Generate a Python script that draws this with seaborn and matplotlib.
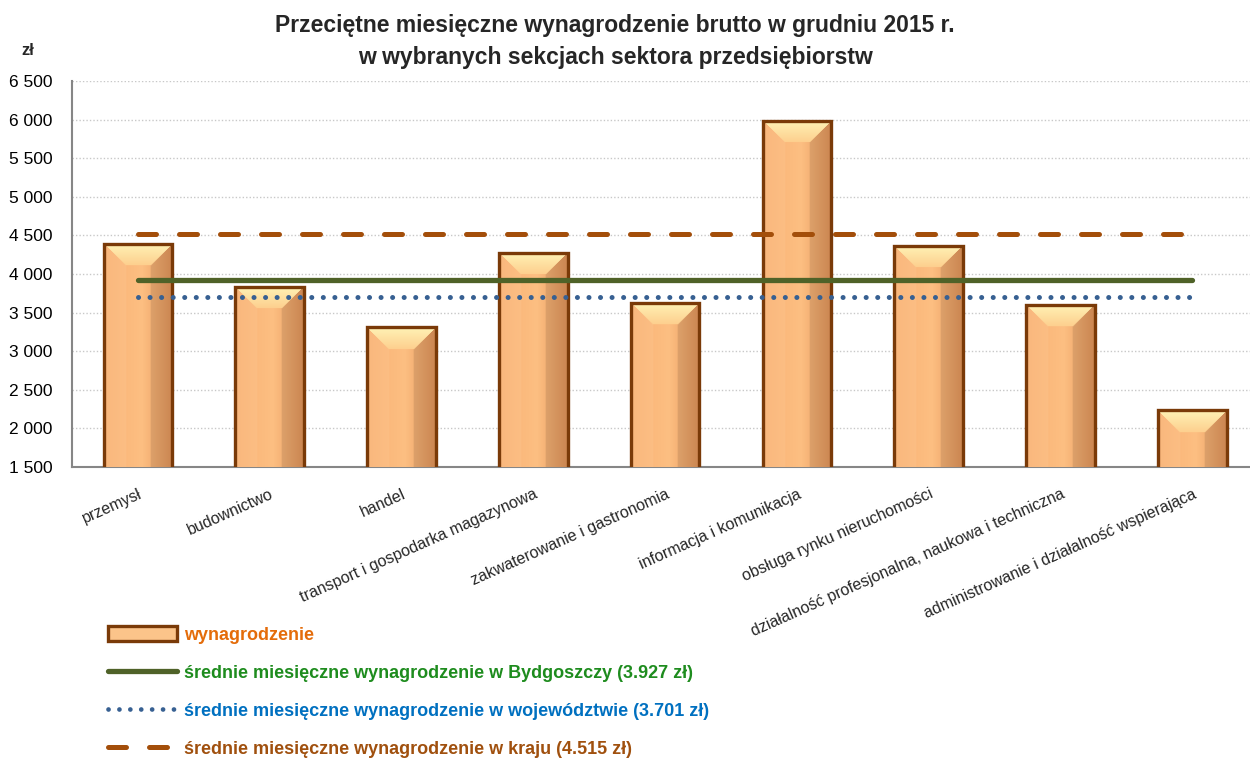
import numpy as np
import pandas as pd
import seaborn as sns
import matplotlib.pyplot as plt
from matplotlib.lines import Line2D
from matplotlib.patches import Rectangle
from matplotlib.colors import to_rgb

# dane
sekcje = ["przemysł", "budownictwo", "handel",
          "transport i gospodarka magazynowa", "zakwaterowanie i gastronomia",
          "informacja i komunikacja", "obsługa rynku nieruchomości",
          "działalność profesjonalna, naukowa i techniczna",
          "administrowanie i działalność wspierająca"]
wynagrodzenie = [4390, 3835, 3310, 4275, 3625, 5985, 4365, 3600, 2235]

srednia_bydgoszcz = 3927
srednia_wojewodztwo = 3701
srednia_kraj = 4515

legend_labels = ["wynagrodzenie",
                 "średnie miesięczne wynagrodzenie w Bydgoszczy (3.927 zł)",
                 "średnie miesięczne wynagrodzenie w województwie (3.701 zł)",
                 "średnie miesięczne wynagrodzenie w kraju (4.515 zł)"]

df = pd.DataFrame({"sekcja": sekcje, "wynagrodzenie": wynagrodzenie})

sns.set_style("white")
plt.rcParams['font.family'] = ['Liberation Sans', 'DejaVu Sans']

fig = plt.figure(figsize=(12.5, 7.6), dpi=100)
ax = fig.add_axes([0.0576, 0.3855, 0.949, 0.508])

EDGE = "#7A3A08"
sns.barplot(data=df, x="sekcja", y="wynagrodzenie", color="#F9B478",
            width=0.52, edgecolor=EDGE, linewidth=2.4, saturation=1, ax=ax, zorder=3)

ax.set_ylim(1500, 6500)
ax.set_xlim(-0.5, len(sekcje) - 0.5)
fig.canvas.draw()


def bevel_image(w_px, h_px, depth=22):
    """Prostokąt z fazowanymi krawędziami (efekt piramidy jak w Excelu)."""
    w_px, h_px = max(int(w_px), 2), max(int(h_px), 2)
    X, Y = np.meshgrid(np.arange(w_px) + 0.5, np.arange(h_px) + 0.5)
    d_top, d_bot = Y, h_px - Y
    d_left, d_right = X, w_px - X
    t = (X / w_px)[..., None]
    left = np.array(to_rgb("#F8B174"))
    mid = np.array(to_rgb("#FDBF82"))
    right = np.array(to_rgb("#E29459"))
    base = np.where(t < 0.55, left + (mid - left) * (t / 0.55),
                    mid + (right - mid) * ((t - 0.55) / 0.45))
    img = base.copy()
    dmin = np.minimum.reduce([d_top, d_bot, d_left, d_right])
    edge = dmin < depth
    top = edge & (d_top == dmin)
    bot = edge & (d_bot == dmin) & ~top
    lft = edge & (d_left == dmin) & ~top & ~bot
    rgt = edge & ~top & ~bot & ~lft
    f = (d_top / depth)[..., None]
    top_c = np.array(to_rgb("#FFF3B6")) * (1 - f) + np.array(to_rgb("#FDCF8E")) * f
    img[top] = top_c[top]
    img[bot] = (base * 0.85 + np.array(to_rgb("#F2C090")) * 0.15)[bot]
    img[lft] = (base * 0.8 + np.array(to_rgb("#FFD0A0")) * 0.2)[lft]
    img[rgt] = (base * 0.9)[rgt]
    return np.clip(img, 0, 1)


for p in ax.patches:
    x0, y0 = p.get_x(), p.get_y()
    w, h = p.get_width(), p.get_height()
    (px0, py0), (px1, py1) = ax.transData.transform([(x0, y0), (x0 + w, y0 + h)])
    img = bevel_image(px1 - px0, py1 - py0)
    ax.imshow(img, extent=(x0, x0 + w, y0, y0 + h), aspect="auto",
              zorder=2.9, interpolation="bilinear")
    p.set_facecolor("none")

ax.set_xlim(-0.5, len(sekcje) - 0.5)
ax.set_ylim(1500, 6500)

# linie średnich od pierwszej do ostatniej kategorii
xs = np.arange(len(sekcje))
ends = [xs[0], xs[-1]]
ax.plot(ends, [srednia_kraj] * 2, color="#A34E0A", lw=3.6,
        linestyle=(0, (3.6, 4.6)), dash_capstyle="round", zorder=4)
ax.plot(ends, [srednia_bydgoszcz] * 2, color="#4F6228", lw=3.8,
        solid_capstyle="round", zorder=4)
ax.plot(ends, [srednia_wojewodztwo] * 2, color="#376092", lw=3.6,
        linestyle=(0, (0.01, 2.3)), dash_capstyle="round", zorder=4)

# osie
ax.set_yticks(range(1500, 6501, 500))
ax.set_yticklabels([f"{v:,}".replace(",", " ") for v in range(1500, 6501, 500)])
ax.yaxis.grid(True, color="#C8C8C8", linestyle=(0, (1, 1.5)), linewidth=1)
ax.set_axisbelow(True)
ax.tick_params(axis="y", length=0, labelsize=12.5, pad=14, colors="black")
for s in ["top", "right"]:
    ax.spines[s].set_visible(False)
for s in ["left", "bottom"]:
    ax.spines[s].set_color("#868686")
    ax.spines[s].set_linewidth(1.5)
ax.set_xlabel("")
ax.set_ylabel("")

ax.set_xticks(xs)
ax.set_xticklabels(sekcje, rotation=24, ha="right", va="top",
                   rotation_mode="anchor", fontsize=11.5)
ax.tick_params(axis="x", which="major", length=0, pad=14)
ax.set_xticks(np.arange(len(sekcje) - 1) + 0.5, minor=True)
ax.tick_params(axis="x", which="minor", direction="inout", length=9,
               width=1.5, color="#868686")

fig.text(0.492, 0.981, "Przeciętne miesięczne wynagrodzenie brutto w grudniu 2015 r.\n"
         "w wybranych sekcjach sektora przedsiębiorstw",
         ha="center", va="top", fontsize=16.5, fontweight="bold", linespacing=1.5)
fig.text(0.022, 0.934, "zł", fontsize=12, fontweight="bold", ha="center", va="center")

handles = [
    Rectangle((0, 0), 1, 1, facecolor="#FBC48A", edgecolor=EDGE, linewidth=2.4),
    Line2D([], [], color="#4F6228", lw=3.8, solid_capstyle="round"),
    Line2D([], [], color="#376092", lw=3.4, linestyle=(0, (0.01, 2.3)),
           dash_capstyle="round"),
    Line2D([], [], color="#A34E0A", lw=3.6, linestyle=(0, (3.6, 4.6)),
           dash_capstyle="round"),
]
leg = fig.legend(handles, legend_labels, loc="lower left",
                 bbox_to_anchor=(0.073, -0.019), frameon=False,
                 prop={"size": 13, "weight": "bold"},
                 handlelength=3.85, handleheight=0.95, handletextpad=0.4,
                 labelspacing=1.12)
for txt, c in zip(leg.get_texts(), ["#E46C0A", "#1E8C1E", "#0070C0", "#A0500E"]):
    txt.set_color(c)

fig.savefig("out.png", dpi=100)
